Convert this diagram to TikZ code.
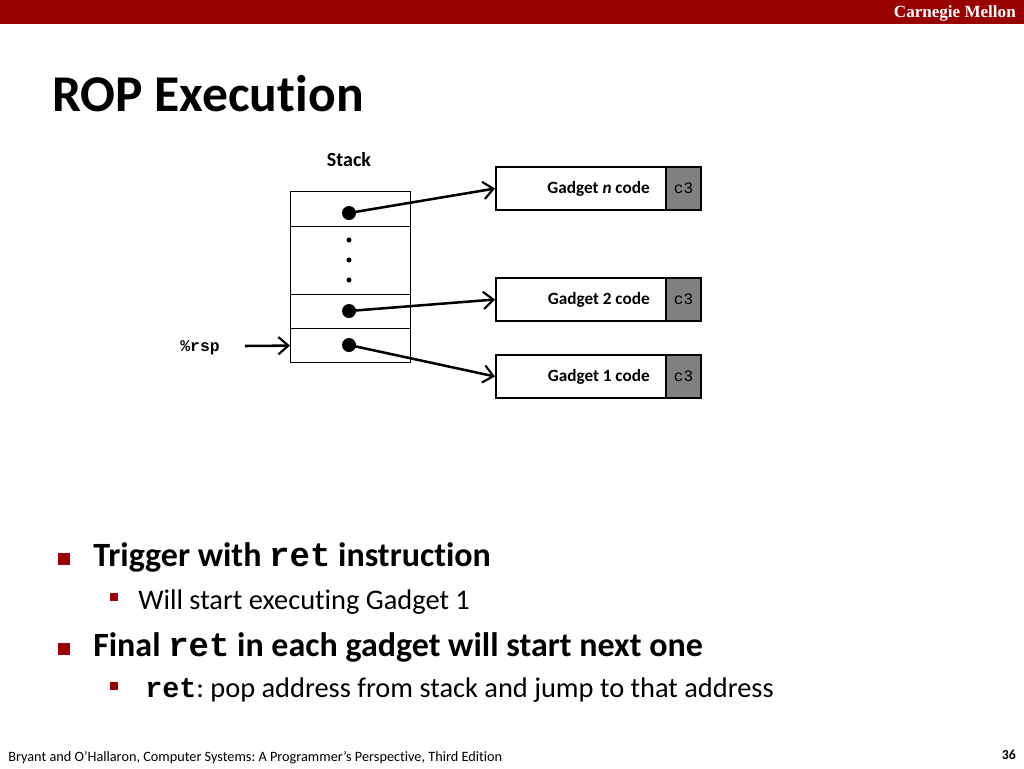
\documentclass[tikz,border=0pt]{standalone}
\usepackage{fontspec}
\setmainfont{Carlito}[Ligatures=NoCommon]
\newfontfamily\monofont{Liberation Mono}
\newfontfamily\cmufont{Liberation Serif}
\usetikzlibrary{arrows.meta}
\frenchspacing
\definecolor{cmured}{HTML}{990000}
\definecolor{cthree}{HTML}{808080}
\tikzset{
  cell/.style={draw=black, line width=0.9pt, minimum width=90pt, inner sep=0pt, anchor=north west},
  bigdot/.style={circle, fill=black, minimum size=10.5pt, inner sep=0pt},
  smalldot/.style={circle, fill=black, minimum size=3.8pt, inner sep=0pt},
  gbox/.style={draw=black, line width=1.5pt, minimum height=32.25pt, minimum width=127.5pt, inner sep=0pt, anchor=north west},
  glabel/.style={anchor=east, inner sep=0pt, xshift=-12.75pt, font=\fontsize{12.9pt}{14pt}\selectfont\bfseries},
  cbox/.style={draw=black, line width=1.5pt, fill=cthree, minimum height=32.25pt, minimum width=26.25pt, inner sep=0pt, anchor=north west, font=\fontsize{12pt}{14pt}\selectfont\monofont},
  arr/.style={line width=1.9pt, -{Straight Barb[length=7.5pt,width=13pt,line width=1.6pt]}},
  bigbullet/.style={fill=cmured, minimum size=9pt, inner sep=0pt},
  smallbullet/.style={fill=cmured, minimum size=6pt, inner sep=0pt},
  lvlone/.style={anchor=base west, inner sep=0pt, font=\fontsize{25.5pt}{30pt}\selectfont\bfseries},
  lvltwo/.style={anchor=base west, inner sep=0pt, font=\fontsize{21.3pt}{26pt}\selectfont},
}
\begin{document}
\begin{tikzpicture}[x=0.75pt,y=-0.75pt]
\useasboundingbox (0,0) rectangle (1024,768);
% header
\fill[cmured] (0,0) rectangle (1024,24);
\node[anchor=east, text=white, inner sep=0pt, font=\fontsize{12.8pt}{14pt}\selectfont\cmufont\bfseries] (cmu) at (1016,13) {Carnegie Mellon};
% title
\node[anchor=base west, inner sep=0pt, font=\fontsize{38.7pt}{46pt}\selectfont\bfseries] (title) at (52,111) {ROP Execution};
% stack
\node[anchor=base, inner sep=0pt, font=\fontsize{15pt}{18pt}\selectfont\bfseries] (stacklbl) at (349,166) {Stack};
\node[cell, minimum height=26.25pt] (c1) at (290,191) {};
\node[cell, minimum height=51pt] (cd) at (290,226) {};
\node[cell, minimum height=25.5pt] (c2) at (290,294) {};
\node[cell, minimum height=25.5pt] (c3) at (290,328) {};
\node[bigdot] (p1) at (349,213) {};
\node[smalldot] (d1) at (349,240) {};
\node[smalldot] (d2) at (349,260) {};
\node[smalldot] (d3) at (349,280) {};
\node[bigdot] (p2) at (349,311) {};
\node[bigdot] (p3) at (349,345) {};
% gadgets
\node[gbox] (gn) at (495,166) {};
\node[glabel] (gnl) at (gn.east) {Gadget \textit{n} code};
\node[cbox] (gnc) at (665,166) {c3};
\node[gbox] (g2) at (495,277) {};
\node[glabel] (g2l) at (g2.east) {Gadget 2 code};
\node[cbox] (g2c) at (665,277) {c3};
\node[gbox] (g1) at (495,354) {};
\node[glabel] (g1l) at (g1.east) {Gadget 1 code};
\node[cbox] (g1c) at (665,354) {c3};
\draw[arr] (p1.center) -- (gn.west);
\draw[arr] (p2.center) -- (g2.west);
\draw[arr] (p3.center) -- (g1.west);
% rsp
\node[anchor=east, inner sep=0pt, font=\fontsize{12.3pt}{14pt}\selectfont\monofont\bfseries] (rsp) at (220,348) {\%rsp};
\coordinate (rspstart) at (245,346);
\draw[arr] (rspstart) -- (c3.west);
% bullets
\node[bigbullet] (b1) at (64,559) {};
\node[lvlone] (t1) at (93,566) {Trigger with {\monofont ret} instruction};
\node[smallbullet] (b2) at (114,597) {};
\node[lvltwo] (t2) at (138,609) {Will start executing Gadget 1};
\node[bigbullet] (b3) at (64,649) {};
\node[lvlone] (t3) at (93,656) {Final {\monofont ret} in each gadget will start next one};
\node[smallbullet] (b4) at (114,686) {};
\node[lvltwo] (t4) at (145,697) {{\monofont\bfseries ret}: pop address from stack and jump to that address};
% footer
\node[anchor=base west, inner sep=0pt, font=\fontsize{10.7pt}{12pt}\selectfont] (foot) at (8,761) {Bryant and O’Hallaron, Computer Systems: A Programmer’s Perspective, Third Edition};
\node[anchor=base east, inner sep=0pt, font=\fontsize{10.3pt}{12pt}\selectfont\bfseries] (pg) at (1016,759) {36};
\end{tikzpicture}
\end{document}
